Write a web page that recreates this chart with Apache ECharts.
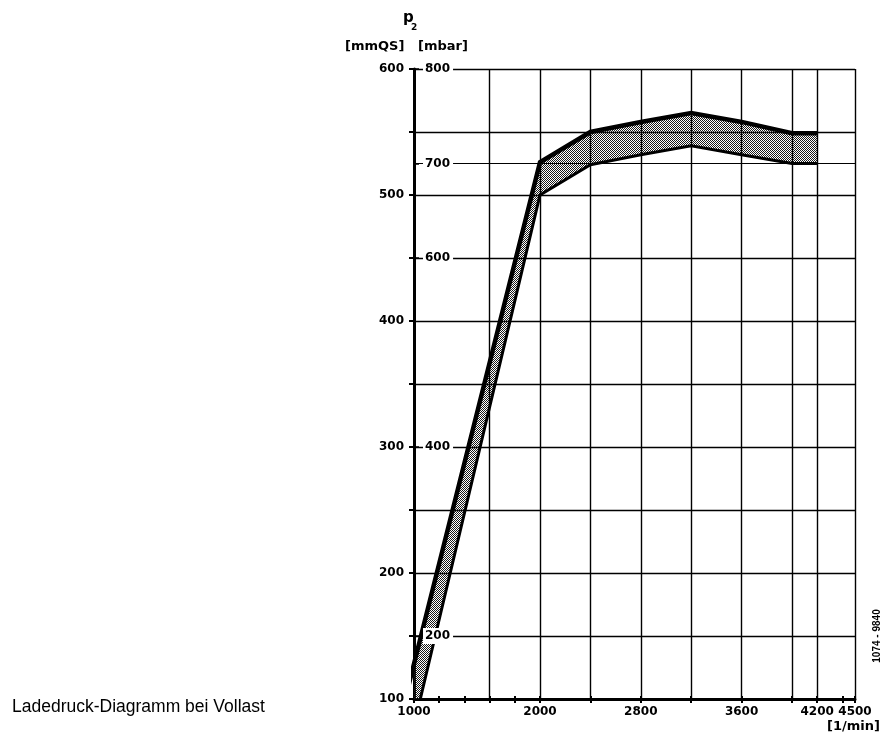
<!DOCTYPE html>
<html><head><meta charset="utf-8">
<script src="https://cdn.jsdelivr.net/npm/echarts@6/dist/echarts.min.js"></script>
<style>html,body{margin:0;padding:0;background:#fff}#c{width:887px;height:740px}</style>
</head><body><div id="c"></div>
<script>
// ---- data (p2 in mmQS over engine speed in 1/min) ----
const RPM_UPPER = [930, 2000, 2400, 2800, 3200, 3600, 4000, 4200];
const P_UPPER   = [100, 526, 550, 558, 565, 558, 549, 549];
const RPM_LOWER = [1050, 2000, 2400, 2800, 3200, 3600, 4000, 4200];
const P_LOWER   = [100, 500, 524, 532, 539, 532, 525, 525];

const X_TICKS  = [1000, 1200, 1400, 1600, 1800, 2000, 2400, 2800, 3200, 3600, 4000, 4200, 4400, 4500];
const X_LABELS = [1000, 2000, 2800, 3600, 4200, 4500];
const X_GRID   = [1600, 2000, 2400, 2800, 3200, 3600, 4000, 4200, 4500];
const MM_MIN = 100, MM_MAX = 600, MM_STEP = 50;
const MBAR_PER_MMQS = 4 / 3;
const MBAR_LABELS = [200, 400, 600, 700, 800];
const MBAR_LINES  = [200, 600, 700];

// stipple pattern
const pc = document.createElement('canvas');
pc.width = 2; pc.height = 2;
const px = pc.getContext('2d');
px.fillStyle = '#1a1a1a';
px.fillRect(0, 0, 1, 1);
px.fillRect(1, 1, 1, 1);
const stipple = { image: pc, repeat: 'repeat' };

const FONT = '"DejaVu Sans", sans-serif';
const chart = echarts.init(document.getElementById('c'), null, { renderer: 'canvas' });

const upperData = RPM_UPPER.map((x, i) => [x, P_UPPER[i]]);
const lowerData = RPM_LOWER.map((x, i) => [x, P_LOWER[i]]);

chart.setOption({
  animation: false,
  backgroundColor: '#fff',
  grid: { left: 414, top: 69, width: 441, height: 630, containLabel: false },
  xAxis: [{
    type: 'value', min: 1000, max: 4500, position: 'bottom',
    axisLine: { show: true, onZero: false, lineStyle: { color: '#000', width: 3 } },
    axisTick: { show: true, customValues: X_TICKS, length: 4, lineStyle: { color: '#000', width: 2 } },
    axisLabel: {
      customValues: X_LABELS, color: '#000', fontFamily: FONT, fontWeight: 'bold', fontSize: 12, margin: 7,
      formatter: v => String(v)
    },
    splitLine: { show: false }
  }, {
    type: 'value', min: 1000, max: 4500, position: 'bottom',
    axisLine: { show: false, onZero: false },
    axisTick: { show: true, inside: true, customValues: X_TICKS, length: 3, lineStyle: { color: '#000', width: 2 } },
    axisLabel: { show: false },
    splitLine: { show: false }
  }],
  yAxis: [{
    type: 'value', min: MM_MIN, max: MM_MAX, interval: MM_STEP, position: 'left',
    axisLine: { show: true, onZero: false, lineStyle: { color: '#000', width: 3 } },
    axisTick: { show: true, length: 5, lineStyle: { color: '#000', width: 2 } },
    axisLabel: {
      color: '#000', fontFamily: FONT, fontWeight: 'bold', fontSize: 12, margin: 10,
      formatter: v => (v % 100 === 0 ? String(v) : '')
    },
    splitLine: { show: true, lineStyle: { color: '#000', width: 1.4 } }
  }, {
    type: 'value', min: MM_MIN * MBAR_PER_MMQS, max: MM_MAX * MBAR_PER_MMQS, position: 'left', z: 10,
    axisLine: { show: false, onZero: false },
    axisTick: { show: true, inside: true, customValues: MBAR_LABELS, length: 5, lineStyle: { color: '#000', width: 1.5 } },
    axisLabel: {
      inside: true, customValues: MBAR_LABELS, color: '#000', fontFamily: FONT, fontWeight: 'bold', fontSize: 12,
      margin: 9, backgroundColor: '#fff', padding: [2, 3, 2, 2],
      formatter: v => String(Math.round(v))
    },
    splitLine: { show: false }
  }],
  series: [{
    type: 'line', xAxisIndex: 0, yAxisIndex: 0, data: [], z: 1, silent: true,
    markLine: {
      silent: true, symbol: ['none', 'none'], label: { show: false },
      lineStyle: { color: '#000', width: 1.4, type: 'solid' },
      data: X_GRID.map(v => ({ xAxis: v }))
    }
  }, {
    type: 'line', xAxisIndex: 0, yAxisIndex: 1, data: [], z: 1, silent: true,
    markLine: {
      silent: true, symbol: ['none', 'none'], label: { show: false },
      lineStyle: { color: '#000', width: 1, type: 'solid' },
      data: MBAR_LINES.map(v => ({ yAxis: v }))
    }
  }, {
    type: 'custom', xAxisIndex: 0, yAxisIndex: 0, z: 2, clip: true, silent: true,
    data: [[RPM_UPPER[0], P_UPPER[0]]],
    renderItem: function (params, api) {
      const pts = [];
      for (let i = 0; i < RPM_UPPER.length; i++) pts.push(api.coord([RPM_UPPER[i], P_UPPER[i]]));
      for (let i = RPM_LOWER.length - 1; i >= 0; i--) pts.push(api.coord([RPM_LOWER[i], P_LOWER[i]]));
      const cs = params.coordSys;
      return {
        type: 'polygon', shape: { points: pts }, style: { fill: stipple, stroke: null },
        clipPath: { type: 'rect', shape: { x: cs.x, y: cs.y, width: cs.width, height: cs.height } }
      };
    }
  }, {
    type: 'line', xAxisIndex: 0, yAxisIndex: 0, data: upperData, z: 3, silent: true,
    showSymbol: false, symbol: 'none', clip: true,
    lineStyle: { color: '#000', width: 4.5, join: 'miter' }
  }, {
    type: 'line', xAxisIndex: 0, yAxisIndex: 0, data: lowerData, z: 3, silent: true,
    showSymbol: false, symbol: 'none', clip: true,
    lineStyle: { color: '#000', width: 3, join: 'miter' }
  }],
  graphic: [
    { type: 'text', x: 403, y: 11, style: { text: 'p', font: 'bold 15px ' + FONT, fill: '#000' } },
    { type: 'text', x: 411, y: 23, style: { text: '2', font: 'bold 9px ' + FONT, fill: '#000' } },
    { type: 'text', x: 345, y: 40, style: { text: '[mmQS]', font: 'bold 13px ' + FONT, fill: '#000' } },
    { type: 'text', x: 418, y: 40, style: { text: '[mbar]', font: 'bold 13px ' + FONT, fill: '#000' } },
    { type: 'text', x: 880, y: 727, style: { text: '[1/min]', font: 'bold 13px ' + FONT, fill: '#000', align: 'right', verticalAlign: 'middle' } },
    { type: 'text', x: 12, y: 707, style: { text: 'Ladedruck-Diagramm bei Vollast', font: '17.5px "Liberation Sans", Arial, sans-serif', fill: '#000', verticalAlign: 'middle' } },
    { type: 'text', x: 877, y: 636, rotation: Math.PI / 2, style: { text: '1074 - 9840', font: 'bold 10px "Liberation Sans", Arial, sans-serif', fill: '#000', align: 'center', verticalAlign: 'middle' } }
  ]
});
</script>
</body></html>
